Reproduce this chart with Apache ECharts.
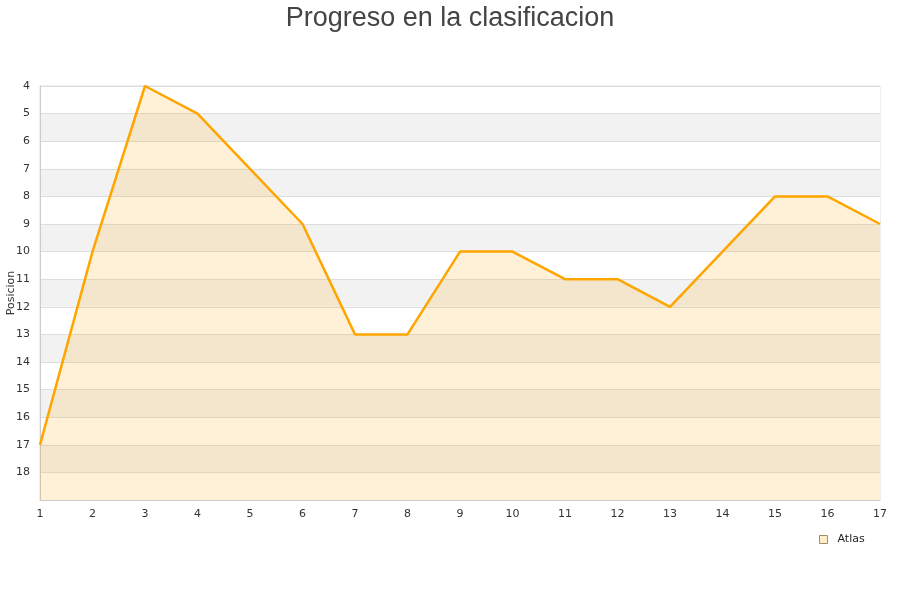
<!DOCTYPE html>
<html><head><meta charset="utf-8">
<script src="https://cdn.jsdelivr.net/npm/echarts@6/dist/echarts.min.js"></script>
<style>html,body{margin:0;padding:0;background:#fff}#c{width:900px;height:600px}</style>
</head><body><div id="c"></div>
<script>
const rounds = ['1','2','3','4','5','6','7','8','9','10','11','12','13','14','15','16','17'];
const atlas = [17,10,4,5,7,9,13,13,10,10,11,11,12,10,8,8,9];
const seriesName = 'Atlas';
const titleText = 'Progreso en la clasificacion';
const yName = 'Posicion';

const chart = echarts.init(document.getElementById('c'), null, {renderer:'canvas'});
chart.setOption({
  animation:false,
  backgroundColor:'#fff',
  title:{text:titleText,left:'center',top:0,textStyle:{fontFamily:'Liberation Sans, Arial',fontSize:27,fontWeight:'normal',color:'#444'}},
  grid:{left:40,right:20,top:86,bottom:100,show:true,borderColor:'#ddd',borderWidth:1,backgroundColor:'transparent',containLabel:false,outerBoundsMode:'none'},
  legend:{data:[{name:seriesName,icon:'rect',itemStyle:{color:'#ffedcc',borderColor:'#a08c6e',borderWidth:1}}],left:814,top:529,itemWidth:8,itemHeight:8,itemGap:9,
    textStyle:{fontFamily:'DejaVu Sans',fontSize:11,color:'#222',padding:[0,0,0,5]}},
  xAxis:{type:'category',data:rounds,boundaryGap:false,
    axisLine:{show:true,lineStyle:{color:'#ccc'}},axisTick:{show:false},
    axisLabel:{fontFamily:'DejaVu Sans',fontSize:11,color:'#333',margin:9},
    splitLine:{show:false}},
  yAxis:{type:'value',inverse:true,min:4,max:19,interval:1,name:yName,nameLocation:'middle',nameGap:23,nameMoveOverlap:false,
    nameTextStyle:{fontFamily:'DejaVu Sans',fontSize:11,color:'#333'},
    axisLine:{show:true,lineStyle:{color:'#ccc'}},axisTick:{show:false},
    axisLabel:{fontFamily:'DejaVu Sans',fontSize:11,color:'#333',margin:10,formatter:v=>v===19?'':String(v)},
    splitLine:{show:true,lineStyle:{color:'#ddd'}},
    splitArea:{show:true,areaStyle:{color:['#ffffff','#f2f2f2']}}},
  series:[{name:seriesName,type:'line',data:atlas,symbol:'none',
    lineStyle:{color:'#ffa500',width:2.5},itemStyle:{color:'#ffa500'},
    areaStyle:{color:'rgba(255,165,0,0.22)',origin:'end'}}]
});
</script></body></html>
